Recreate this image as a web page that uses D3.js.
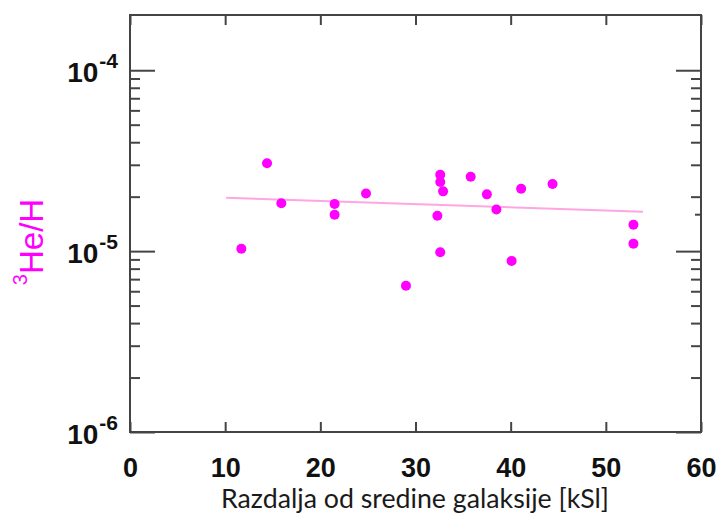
<!DOCTYPE html>
<html><head><meta charset="utf-8">
<script src="https://cdn.jsdelivr.net/npm/d3@7"></script>
<style>html,body{margin:0;padding:0;background:#fff;} svg{display:block;}</style>
</head><body>
<svg id="chart" width="722" height="513"></svg>
<script>
// ---- data ----
const distance = [11.7, 14.4, 15.9, 21.5, 21.5, 24.8, 29.0, 32.3, 32.6, 32.6, 32.9, 32.6, 35.8, 37.5, 38.5, 40.1, 41.1, 44.4, 52.9, 52.9];
const ratio    = [1.03e-5, 3.06e-5, 1.84e-5, 1.82e-5, 1.59e-5, 2.08e-5, 6.44e-6, 1.57e-5, 2.64e-5, 2.41e-5, 2.14e-5, 9.85e-6, 2.58e-5, 2.06e-5, 1.70e-5, 8.83e-6, 2.21e-5, 2.35e-5, 1.40e-5, 1.10e-5];
const trendX = [10.1, 53.9];
const trendY = [1.97e-5, 1.65e-5];
const xTicks = [0, 10, 20, 30, 40, 50, 60];
const yMajorTicks = [1e-6, 1e-5, 1e-4];
const yExponents = ["-6", "-5", "-4"];
const yMinorTicks = [2e-6,3e-6,4e-6,5e-6,6e-6,7e-6,8e-6,9e-6,2e-5,3e-5,4e-5,5e-5,6e-5,7e-5,8e-5,9e-5];
const rightExtraTicks = [1.6e-5];
const yTitleSup = "3";
const yTitleMain = "He/H";
const xTitle = "Razdalja od sredine galaksije [kSl]";

// ---- layout ----
const W = 722, H = 513;
const m = {top: 15, right: 21, bottom: 81, left: 130};
const w = W - m.left - m.right, h = H - m.top - m.bottom;
const axisColor = "#444";

const svg = d3.select("#chart");
const g = svg.append("g").attr("transform", `translate(${m.left},${m.top})`);

const x = d3.scaleLinear().domain([0, 60]).range([0, w]);
const y = d3.scaleLog().domain([1e-6, 2.02e-4]).range([h, 0]);

function styleAxis(sel) {
  sel.select(".domain").remove();
  sel.selectAll(".tick line").attr("stroke", axisColor).attr("stroke-width", 2);
}

// bottom x axis (ticks inward)
const xb = g.append("g").attr("transform", `translate(0,${h})`)
  .call(d3.axisBottom(x).tickValues(xTicks).tickSize(-10).tickSizeOuter(0).tickPadding(0).tickFormat(d3.format("d")));
styleAxis(xb);
xb.selectAll(".tick text")
  .attr("dy", null).attr("y", 45)
  .attr("font-family", "'Liberation Sans', Arial, Helvetica, sans-serif")
  .attr("font-weight", "bold").attr("font-size", 27).attr("fill", "#111");

// top x axis
const xt = g.append("g")
  .call(d3.axisTop(x).tickValues(xTicks).tickSize(-10).tickSizeOuter(0).tickFormat(""));
styleAxis(xt);

// left y axis major
const yl = g.append("g")
  .call(d3.axisLeft(y).tickValues(yMajorTicks).tickSize(-25).tickSizeOuter(0).tickPadding(0).tickFormat(""));
styleAxis(yl);
yl.selectAll(".tick text").remove();
yl.selectAll(".tick").each(function(d) {
  const t = d3.select(this).append("text")
    .attr("x", -12).attr("y", 11)
    .attr("text-anchor", "end")
    .attr("font-family", "'Liberation Sans', Arial, Helvetica, sans-serif")
    .attr("font-weight", "bold").attr("fill", "#111");
  t.append("tspan").attr("font-size", 28).text("10");
  t.append("tspan").attr("font-size", 21).attr("dy", -14).attr("dx", 1).text(yExponents[yMajorTicks.indexOf(d)]);
});
// left y axis minor
const ylm = g.append("g")
  .call(d3.axisLeft(y).tickValues(yMinorTicks).tickSize(-10).tickSizeOuter(0).tickFormat(""));
styleAxis(ylm);

// right y axis
const yr = g.append("g").attr("transform", `translate(${w},0)`)
  .call(d3.axisRight(y).tickValues(yMajorTicks).tickSize(-25).tickSizeOuter(0).tickFormat(""));
styleAxis(yr);
const yrm = g.append("g").attr("transform", `translate(${w},0)`)
  .call(d3.axisRight(y).tickValues(yMinorTicks).tickSize(-10).tickSizeOuter(0).tickFormat(""));
styleAxis(yrm);
const yre = g.append("g").attr("transform", `translate(${w},0)`)
  .call(d3.axisRight(y).tickValues(rightExtraTicks).tickSize(-6).tickSizeOuter(0).tickFormat(""));
styleAxis(yre);

// frame
g.append("rect").attr("x", 0).attr("y", 0).attr("width", w).attr("height", h)
  .attr("fill", "none").attr("stroke", axisColor).attr("stroke-width", 2);

// trend line
const line = d3.line().x(d => x(d[0])).y(d => y(d[1]));
g.append("path")
  .datum(trendX.map((v, i) => [v, trendY[i]]))
  .attr("d", line)
  .attr("fill", "none").attr("stroke", "#ffa6e2").attr("stroke-width", 2);

// points
g.selectAll("circle.pt")
  .data(distance.map((v, i) => [v, ratio[i]]))
  .join("circle").attr("class", "pt")
  .attr("cx", d => x(d[0])).attr("cy", d => y(d[1]))
  .attr("r", 5).attr("fill", "#ff00ff");

// y title
const yt = svg.append("text")
  .attr("transform", "translate(43,242) rotate(-90)")
  .attr("text-anchor", "middle")
  .attr("font-family", "'Liberation Sans', Arial, Helvetica, sans-serif")
  .attr("fill", "#ff00ff");
yt.append("tspan").attr("font-size", 20).attr("dy", -16).text(yTitleSup);
yt.append("tspan").attr("font-size", 33).attr("dy", 16).text(yTitleMain);

// x title
const xtitle = svg.append("text")
  .attr("x", 415).attr("y", 508)
  .attr("text-anchor", "middle")
  .attr("font-family", "Lato, 'Open Sans', sans-serif")
  .attr("font-size", 22).attr("fill", "#1a1a1a")
  .text(xTitle);
const len = xtitle.node().getComputedTextLength();
xtitle.attr("font-size", 22 * 388 / len);
</script>
</body></html>
